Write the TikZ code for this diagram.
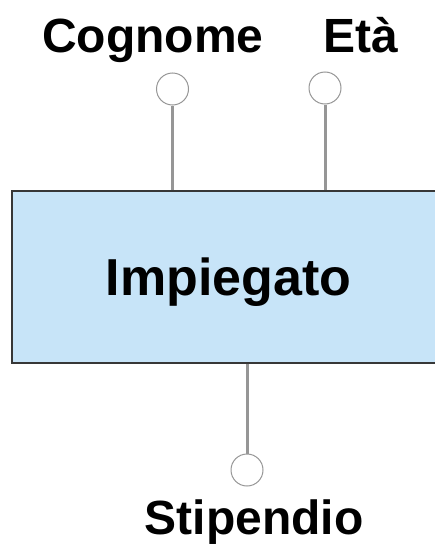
\documentclass[tikz,border=0pt]{standalone}
\usepackage{fontspec}
\setmainfont{Liberation Sans}
\usepackage{xcolor}
\usetikzlibrary{positioning}

\definecolor{entityfill}{RGB}{199,228,248}
\definecolor{entityline}{RGB}{55,55,55}
\definecolor{attrline}{RGB}{150,150,150}

\begin{document}
\begin{tikzpicture}[
  x=1pt, y=-1pt,
  entity/.style={rectangle, draw=entityline, fill=entityfill, line width=1.5pt, minimum width=433pt, minimum height=172pt, text centered, text depth=0pt, font=\fontsize{52}{60}\selectfont\bfseries},
  attr/.style={circle, draw=attrline, fill=white, line width=1pt, minimum size=32pt, inner sep=0pt},
  label/.style={font=\fontsize{48}{56}\selectfont\bfseries, inner sep=0pt, anchor=base},
  link/.style={draw=attrline, line width=3pt}
]
\useasboundingbox (0,0) rectangle (434,546);

% Entity
\node (impiegato) [entity] at (228.5,277) {Impiegato};

% Attributes
\node (cognome) [attr] at (172.5,89) {};
\node (eta) [attr] at (325,88) {};
\node (stipendio) [attr] at (247,470) {};

% Links
\draw [link] (cognome.south) -- (cognome.south |- impiegato.north);
\draw [link] (eta.south) -- (eta.south |- impiegato.north);
\draw [link] (impiegato.south -| stipendio.north) -- (stipendio.north);

% Labels
\node (cognometext) [label] at (153,52) {Cognome};
\node (etatext) [label] at (361,52) {Età};
\node (stipendiotext) [label] at (254,534) {Stipendio};
\end{tikzpicture}
\end{document}
